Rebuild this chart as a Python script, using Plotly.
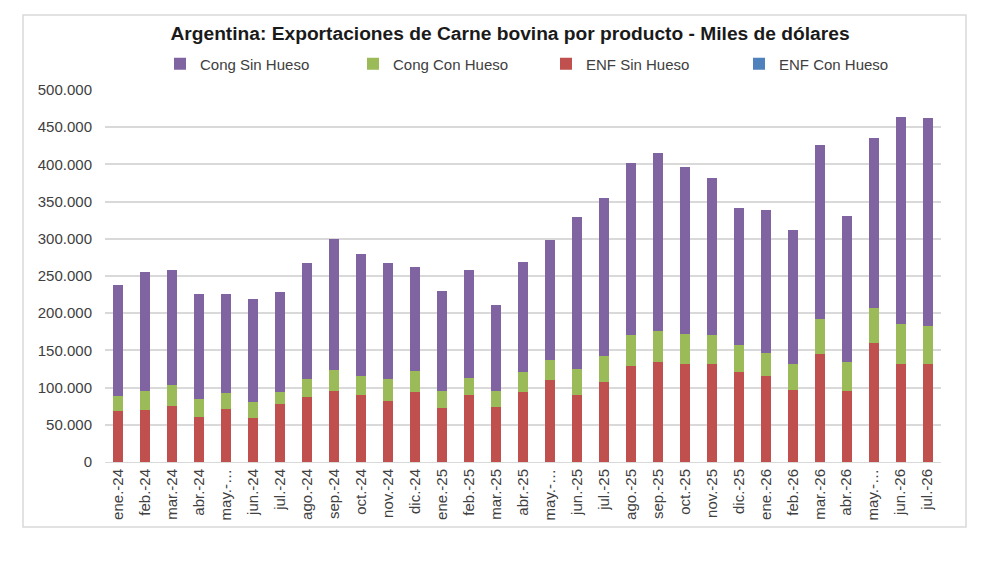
import plotly.graph_objects as go

# meses ene-24 .. jul-26
meses = ["ene.-24", "feb.-24", "mar.-24", "abr.-24", "may.-…", "jun.-24", "jul.-24",
         "ago.-24", "sep.-24", "oct.-24", "nov.-24", "dic.-24",
         "ene.-25", "feb.-25", "mar.-25", "abr.-25", "may.-…", "jun.-25", "jul.-25",
         "ago.-25", "sep.-25", "oct.-25", "nov.-25", "dic.-25",
         "ene.-26", "feb.-26", "mar.-26", "abr.-26", "may.-…", "jun.-26", "jul.-26"]
meses_id = [f"m{i:02d}" for i in range(len(meses))]

# miles de dolares
enf_sin_hueso = [68000, 69800, 75600, 59900, 71600, 58500, 78300, 87800, 95400, 90000,
                 81900, 94500, 72900, 90500, 73800, 93600, 109800, 90500, 107100, 128700,
                 135000, 131900, 131900, 121500, 115200, 97200, 144500, 95900, 159300, 131900,
                 132300]
enf_con_hueso = [0] * 31
cong_con_hueso = [20200, 25200, 27900, 24700, 21600, 21600, 16200, 23400, 27900, 26100,
                  29700, 27900, 22500, 22900, 22100, 27000, 27500, 35100, 36000, 42300,
                  41000, 39600, 38700, 36000, 31100, 34700, 47700, 38700, 47300, 53100,
                  50000]
cong_sin_hueso = [149400, 160600, 154400, 141800, 132700, 139100, 134100, 156600, 176000, 163400,
                  156200, 140000, 135000, 144500, 115200, 147600, 161500, 203800, 212000, 231300,
                  239400, 225400, 211000, 183600, 193000, 180400, 234000, 196200, 228600, 279000,
                  280300]

# layout: coordenadas de la imagen de referencia, la pagina agrega 8px de margen
OFF = 8
W, H = 992 - OFF, 562 - OFF
PL, PR, PT, PB = 105, 941, 90, 462   # area de trazado en la referencia
ML, MT = PL - OFF, PT - OFF
pw, ph = PR - PL, PB - PT
MR, MB = W - ML - pw, H - MT - ph

fnt = "Liberation Sans, Arial, sans-serif"

def px_x(p):
    return (p - PL) / pw

def px_y(p):
    return (PB - p) / ph

fig = go.Figure()
series = [
    ("ENF Sin Hueso", enf_sin_hueso, "#C0504D", 3),
    ("ENF Con Hueso", enf_con_hueso, "#4F81BD", 4),
    ("Cong Con Hueso", cong_con_hueso, "#9BBB59", 2),
    ("Cong Sin Hueso", cong_sin_hueso, "#8064A2", 1),
]
for name, vals, col, rank in series:
    fig.add_trace(go.Bar(x=meses_id, y=vals, name=name, marker_color=col,
                         marker_line_width=0, legendrank=rank))

# marco del grafico
fig.add_shape(type="rect", xref="paper", yref="paper",
              x0=px_x(23), x1=px_x(966), y0=px_y(527), y1=px_y(15),
              line=dict(color="#d9d9d9", width=1.5), layer="below")

fig.update_layout(
    width=W, height=H,
    margin=dict(l=ML, r=MR, t=MT, b=MB, autoexpand=False),
    paper_bgcolor="white", plot_bgcolor="white",
    barmode="stack", bargap=0.63,
    separators=",.",
    font=dict(family=fnt, size=15, color="#404040"),
    title=dict(text="<b>Argentina: Exportaciones de Carne bovina por producto - Miles de dólares</b>",
               x=px_x(510), xref="paper", xanchor="center",
               y=1 - (33 - OFF) / H, yref="container", yanchor="middle",
               font=dict(family=fnt, size=19.2, color="#1a1a1a")),
    legend=dict(orientation="h", x=px_x(160), xanchor="left", xref="paper",
                y=px_y(64), yanchor="middle", yref="paper",
                entrywidth=148, entrywidthmode="pixels",
                font=dict(family=fnt, size=15, color="#404040"),
                itemwidth=30, traceorder="normal", bgcolor="rgba(0,0,0,0)"),
    showlegend=True,
)
fig.update_xaxes(tickmode="array", tickvals=meses_id, ticktext=meses,
                 tickangle=-90, showgrid=False, ticks="",
                 showline=True, linecolor="#d9d9d9", linewidth=1,
                 tickfont=dict(size=15, color="#404040"))
fig.update_yaxes(range=[0, 500000], dtick=50000, tickformat=",d",
                 showgrid=True, gridcolor="#d9d9d9", gridwidth=1.5,
                 zeroline=False, ticks="", ticklen=0, ticklabelstandoff=12,
                 tickfont=dict(size=15, color="#404040"))

fig.write_html("out.html")
